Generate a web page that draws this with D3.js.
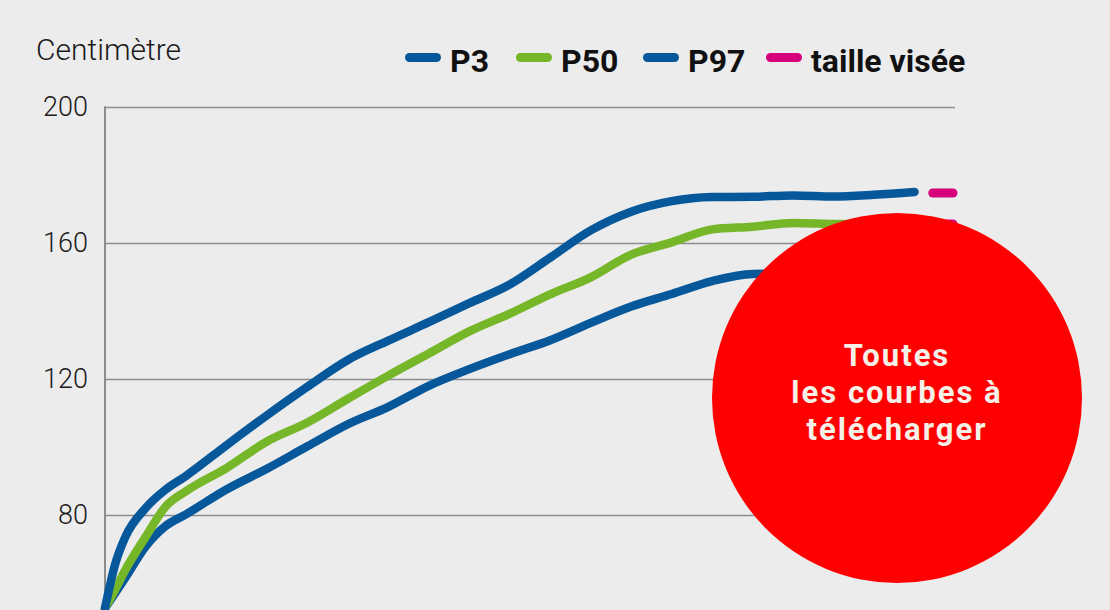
<!DOCTYPE html>
<html>
<head>
<meta charset="utf-8">
<script src="https://cdn.jsdelivr.net/npm/d3@7"></script>
<style>
  html, body { margin: 0; padding: 0; background: #ececec; overflow: hidden; }
  svg { display: block; }
</style>
</head>
<body>
<svg id="svg1"></svg>
<script>
// age (years) and height (cm)
var ages = [0, 0.25, 0.5, 1, 1.5, 2, 3, 4, 5, 6, 7, 8, 9, 10, 11, 12, 13, 14, 15, 16, 17, 18, 19, 20];
var p3  = [52.6, 57.0, 61.5, 70.7, 76.8, 80.2, 87.5, 93.6, 100.2, 106.7, 111.8, 118.0, 122.9, 127.3, 131.4, 136.5, 141.3, 145.0, 148.8, 150.9, 151.0, 151.0, 151.0, 151.0];
var p50 = [52.6, 58.0, 63.8, 73.5, 82.5, 87.0, 93.8, 101.6, 107.2, 114.2, 121.0, 127.5, 134.0, 139.2, 144.9, 149.9, 156.6, 160.2, 164.0, 164.8, 165.9, 165.6, 165.5, 165.5];
var p97 = [52.6, 65.5, 73.5, 82.0, 87.5, 91.5, 100.5, 109.3, 117.7, 125.6, 131.3, 136.7, 142.3, 147.8, 155.7, 163.7, 169.2, 172.3, 173.5, 173.6, 174.0, 173.7, 174.2, 175.0];
var targets = [151.0, 165.6, 174.7];   // taille visée
var yTicks = [80, 120, 160, 200];
var legendNames = ["P3", "P50", "P97", "taille visée"];
var legendColors = ["#07589b", "#76b72a", "#07589b", "#d6007d"];
var badgeLines = ["Toutes", "les courbes à", "télécharger"];

var blue = "#07589b", green = "#76b72a", pink = "#d6007d";

var svg = d3.select("#svg1")
  .attr("width", 1110)
  .attr("height", 610);

svg.append("rect").attr("width", 1110).attr("height", 610).attr("fill", "#ececec");

var x = d3.scaleLinear().domain([0, 21]).range([105, 955]);
var y = d3.scaleLinear().domain([50, 200]).range([617, 107]);

// grid + tick labels
var yAxis = svg.append("g")
  .attr("transform", "translate(105,0)")
  .call(d3.axisLeft(y).tickValues(yTicks).tickSize(-850).tickPadding(17).tickFormat(d3.format("d")));
yAxis.select(".domain").remove();
yAxis.selectAll(".tick line").attr("stroke", "#8c8c8c").attr("stroke-width", 1.6);
yAxis.selectAll(".tick text")
  .style("font-family", "Roboto, sans-serif")
  .style("font-weight", 300)
  .style("font-size", "27px")
  .attr("fill", "#1a1a1a");

// vertical axis
svg.append("line")
  .attr("x1", x(0)).attr("x2", x(0))
  .attr("y1", y(200) - 0.8).attr("y2", 612)
  .attr("stroke", "#8c8c8c").attr("stroke-width", 2);

svg.append("text")
  .attr("x", 36).attr("y", 60)
  .text("Centimètre")
  .style("font-family", "Roboto, sans-serif")
  .style("font-weight", 300)
  .style("font-size", "30px")
  .attr("fill", "#1a1a1a");

// curves
var line = d3.line()
  .x(function(d) { return x(d[0]); })
  .y(function(d) { return y(d[1]); })
  .curve(d3.curveMonotoneX);

var series = [
  { vals: p3, color: blue },
  { vals: p50, color: green },
  { vals: p97, color: blue }
];

series.forEach(function(s) {
  svg.append("path")
    .datum(ages.map(function(a, i) { return [a, s.vals[i]]; }))
    .attr("d", line)
    .attr("fill", "none")
    .attr("stroke", s.color)
    .attr("stroke-width", 8.5)
    .attr("stroke-linecap", "round")
    .attr("stroke-linejoin", "round");
});

// target height dashes
svg.selectAll(".target")
  .data(targets)
  .enter()
  .append("line")
  .attr("class", "target")
  .attr("x1", x(20.45)).attr("x2", x(20.95))
  .attr("y1", d => y(d)).attr("y2", d => y(d))
  .attr("stroke", pink)
  .attr("stroke-width", 9)
  .attr("stroke-linecap", "round");

// legend
var legX = [405, 516, 643, 766];
var leg = svg.selectAll(".leg")
  .data(legendNames)
  .enter()
  .append("g")
  .attr("class", "leg")
  .attr("transform", (d, i) => `translate(${legX[i]},0)`);
leg.append("line")
  .attr("x1", 4.5).attr("x2", 31.5)
  .attr("y1", 57.5).attr("y2", 57.5)
  .attr("stroke", (d, i) => legendColors[i])
  .attr("stroke-width", 9)
  .attr("stroke-linecap", "round");
leg.append("text")
  .attr("x", 45).attr("y", 72)
  .text(d => d)
  .style("font-family", "Roboto, sans-serif")
  .style("font-weight", 700)
  .style("font-size", "32px")
  .attr("fill", "#111");

// red badge
svg.append("circle")
  .attr("cx", 897).attr("cy", 398).attr("r", 185)
  .attr("fill", "#ff0000");

svg.selectAll(".badge")
  .data(badgeLines)
  .enter()
  .append("text")
  .attr("class", "badge")
  .attr("x", 897)
  .attr("y", (d, i) => 366 + i * 37)
  .attr("text-anchor", "middle")
  .text(d => d)
  .style("font-family", "Roboto, sans-serif")
  .style("font-weight", 700)
  .style("font-size", "31px")
  .style("letter-spacing", "2px")
  .attr("fill", "#f5f0e8");
</script>
</body>
</html>
